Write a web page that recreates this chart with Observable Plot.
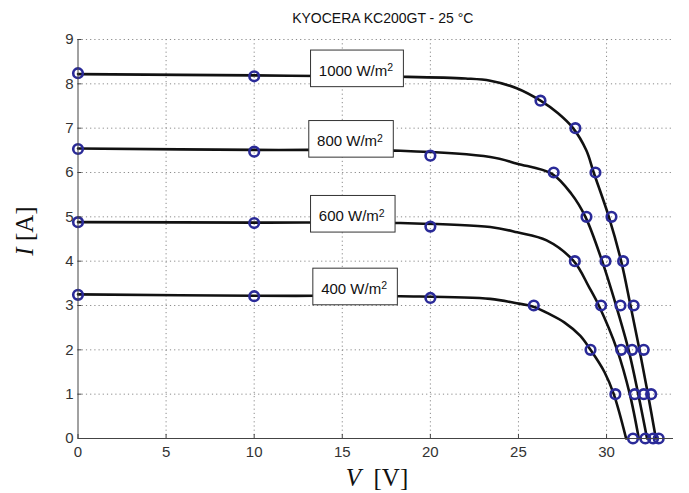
<!DOCTYPE html>
<html><head><meta charset="utf-8">
<script src="https://cdn.jsdelivr.net/npm/d3@7"></script>
<script src="https://cdn.jsdelivr.net/npm/@observablehq/plot@0.6"></script>
<style>body{margin:0;background:#fff;} svg{display:block}</style>
</head><body><div id="chart"></div>
<script>
const title = "KYOCERA KC200GT - 25 °C";
const irradiances = [1000, 800, 600, 400];
const xTicks = [0, 5, 10, 15, 20, 25, 30];
const yTicks = [0, 1, 2, 3, 4, 5, 6, 7, 8, 9];

// model curves (V, I)
const curveV1000 = [0, 10, 18.3, 22, 23.4, 24.9, 26.25, 27.23, 28.1, 28.85, 29.27, 30.13, 30.83, 31.36, 31.87, 32.35, 32.8];
const curveI1000 = [8.22, 8.19, 8.16, 8.12, 8.07, 7.9, 7.62, 7.34, 7.0, 6.5, 6.0, 5.0, 4.0, 3.0, 2.0, 1.0, 0];
const curveV800 = [0, 10, 18.3, 23.4, 24.93, 26.9, 28.0, 28.8, 29.75, 30.54, 31.25, 31.8, 32.3];
const curveI800 = [6.54, 6.51, 6.49, 6.35, 6.2, 5.97, 5.52, 5.0, 4.0, 3.0, 2.0, 1.0, 0];
const curveV600 = [0, 10, 18.3, 23.4, 24.93, 26.6, 28.14, 29.0, 29.56, 30.6, 31.32, 31.83];
const curveI600 = [4.88, 4.87, 4.86, 4.77, 4.65, 4.47, 4.0, 3.42, 3.0, 2.0, 1.0, 0];
const curveV400 = [0, 10, 18.3, 23.4, 24.9, 25.8, 26.8, 27.6, 28.5, 29.09, 29.88, 30.41, 31.11];
const curveI400 = [3.25, 3.22, 3.21, 3.15, 3.05, 2.98, 2.8, 2.62, 2.32, 2.0, 1.5, 1.0, 0];

// measured points
const markV1000 = [0, 10, 26.25, 28.23, 29.37, 30.28, 30.94, 31.54, 32.11, 32.53, 32.96];
const markI1000 = [8.24, 8.17, 7.62, 7.0, 6.0, 5.0, 4.0, 3.0, 2.0, 1.0, 0];
const markV800 = [0, 10, 20, 27.0, 28.86, 29.94, 30.79, 31.45, 32.11, 32.64];
const markI800 = [6.53, 6.47, 6.38, 6.0, 5, 4, 3, 2, 1, 0];
const markV600 = [0, 10, 20, 28.2, 29.69, 30.83, 31.6, 32.2];
const markI600 = [4.88, 4.86, 4.78, 4, 3, 2, 1, 0];
const markV400 = [0, 10, 20, 25.87, 29.09, 30.5, 31.5];
const markI400 = [3.24, 3.21, 3.17, 3, 2, 1, 0];

// label anchors (text start / baseline) in data units
const labelV = [13.67, 13.57, 13.67, 13.8];
const labelI = [8.18, 6.59, 4.90, 3.26];

const curveV = [curveV1000, curveV800, curveV600, curveV400];
const curveI = [curveI1000, curveI800, curveI600, curveI400];
const markV = [markV1000, markV800, markV600, markV400];
const markI = [markI1000, markI800, markI600, markI400];

const curves = irradiances.flatMap((g, k) => curveV[k].map((v, i) => ({G: g, V: v, I: curveI[k][i]})));
const marks = irradiances.flatMap((g, k) => markV[k].map((v, i) => ({G: g, V: v, I: markI[k][i]})));
const labels = irradiances.map((g, k) => ({G: g, V: labelV[k], I: labelI[k]}));

const gridStyle = {stroke: "#8a8a8a", strokeOpacity: 1, strokeWidth: 1, strokeDasharray: "1.2,3"};

const plot = Plot.plot({
  width: 689, height: 493,
  marginLeft: 77.5, marginRight: 16, marginTop: 39, marginBottom: 55,
  x: {domain: [0, 33.8]},
  y: {domain: [0, 9]},
  style: {fontFamily: "'Liberation Sans', Arial, sans-serif", fontSize: "15px", color: "#333", background: "#fff"},
  marks: [
    Plot.gridX(xTicks.filter(d => d > 0), gridStyle),
    Plot.gridY(yTicks.filter(d => d > 0), gridStyle),
    Plot.line(curves, {x: "V", y: "I", z: "G", stroke: "#111", strokeWidth: 2.6, curve: "catmull-rom"}),
    Plot.dot(marks, {x: "V", y: "I", r: 4.8, stroke: "#2a2a98", strokeWidth: 2.6, fill: "none"}),
    Plot.ruleX([0], {y1: 0, y2: 9, stroke: "#444"}),
    Plot.ruleY([0], {x1: 0, x2: 33.8, stroke: "#444"}),
    Plot.axisX({ticks: xTicks, tickSize: -4, tickPadding: 12, label: null, stroke: "#444"}),
    Plot.axisY({ticks: yTicks, tickSize: -4, tickPadding: 8.5, label: null, stroke: "#444"}),
    Plot.text(labels, {x: "V", y: "I", text: d => `${d.G} W/m`, textAnchor: "start", lineAnchor: "bottom", fill: "#111", fontSize: 15}),
    Plot.text([title], {frameAnchor: "top", dx: 7, dy: -17, lineAnchor: "bottom", fontSize: 14, fill: "#111"})
  ]
});
document.getElementById("chart").append(plot);

const svg = d3.select(plot);
svg.selectAll("text").filter(function () { return /W\/m$/.test(this.textContent); }).each(function () {
  d3.select(this).append("tspan").attr("dy", "-0.45em").attr("font-size", "10.5px").text("2");
  const bb = this.getBBox();
  const baseline = bb.y + bb.height - 3.2;
  const rect = document.createElementNS("http://www.w3.org/2000/svg", "rect");
  rect.setAttribute("x", bb.x - 8.3);
  rect.setAttribute("y", baseline - 25.6);
  rect.setAttribute("width", bb.width + 18.5);
  rect.setAttribute("height", 36.6);
  rect.setAttribute("fill", "#fff");
  rect.setAttribute("stroke", "#333");
  rect.setAttribute("stroke-width", 1);
  const tr = this.getAttribute("transform");
  if (tr) rect.setAttribute("transform", tr);
  this.parentNode.insertBefore(rect, this);
});

// axis titles with italic symbols
const yl = svg.append("text")
  .attr("transform", "translate(33,231) rotate(-90)")
  .attr("text-anchor", "middle")
  .attr("font-family", "'Liberation Serif', 'Times New Roman', serif")
  .attr("font-size", 25).attr("fill", "#111");
yl.append("tspan").attr("font-style", "italic").text("I");
yl.append("tspan").text("\u00a0[A]");

const xl = svg.append("text")
  .attr("x", 377).attr("y", 485.5)
  .attr("text-anchor", "middle")
  .attr("font-family", "'Liberation Serif', 'Times New Roman', serif")
  .attr("font-size", 25).attr("fill", "#111");
xl.append("tspan").attr("font-style", "italic").text("V");
xl.append("tspan").text("\u00a0\u00a0[V]");
</script>
</body></html>
